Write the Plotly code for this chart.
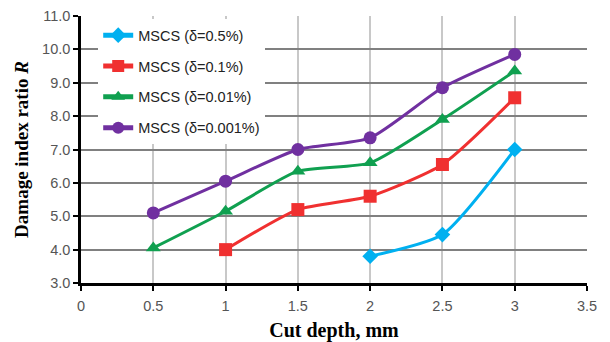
import plotly.graph_objects as go

# Cut depth (mm) for each series
x_05 = [2.0, 2.5, 3.0]
x_01 = [1.0, 1.5, 2.0, 2.5, 3.0]
x_001 = [0.5, 1.0, 1.5, 2.0, 2.5, 3.0]
x_0001 = [0.5, 1.0, 1.5, 2.0, 2.5, 3.0]

# Damage index ratio R
r_05 = [3.8, 4.45, 7.0]
r_01 = [4.0, 5.2, 5.6, 6.55, 8.55]
r_001 = [4.05, 5.15, 6.35, 6.6, 7.9, 9.35]
r_0001 = [5.1, 6.05, 7.0, 7.35, 8.85, 9.85]

names = ["MSCS (δ=0.5%)", "MSCS (δ=0.1%)", "MSCS (δ=0.01%)", "MSCS (δ=0.001%)"]
colors = ["#00B0F0", "#F03030", "#10A050", "#7030A0"]
symbols = ["diamond", "square", "triangle-up", "circle"]
sizes = [12, 13, 13, 13]

x_ticks = [0, 0.5, 1, 1.5, 2, 2.5, 3, 3.5]
y_ticks = [3, 4, 5, 6, 7, 8, 9, 10, 11]

series = [(x_05, r_05), (x_01, r_01), (x_001, r_001), (x_0001, r_0001)]

fig = go.Figure()
for i, (xs, ys) in enumerate(series):
    fig.add_trace(go.Scatter(
        x=xs, y=ys, name=names[i], mode="lines+markers",
        legendgroup=f"g{i}",
        line=dict(color=colors[i], width=3, shape="spline", smoothing=0.6),
        marker=dict(symbol=symbols[i], size=sizes[i], color=colors[i]),
    ))

axis_font = dict(family="Liberation Sans, Arial, sans-serif", size=14.5, color="#555555")
x_title_font = dict(family="Liberation Serif, Times New Roman, serif", size=20, color="black")
y_title_font = dict(family="Liberation Serif, Times New Roman, serif", size=19, color="black")

fig.update_layout(
    width=610, height=342,
    margin=dict(l=81, r=23, t=16, b=59),
    paper_bgcolor="white", plot_bgcolor="white",
    showlegend=True,
    legend=dict(
        x=0.034, y=0.988, xanchor="left", yanchor="top",
        bgcolor="white", borderwidth=0,
        font=dict(family="Liberation Sans, Arial, sans-serif", size=14.5, color="#222222"),
        traceorder="grouped", tracegroupgap=9,
        itemsizing="constant",
    ),
    xaxis=dict(
        range=[0, 3.5], tickvals=x_ticks, ticktext=[f"{v:g}" for v in x_ticks],
        showgrid=True, gridcolor="#C8C8C8", gridwidth=1.5,
        showline=True, linecolor="black", linewidth=2.5,
        ticks="outside", ticklen=5, tickwidth=2, tickcolor="black",
        tickfont=axis_font, zeroline=False, ticklabelstandoff=3,
        automargin=False,
        title=dict(text="<b>Cut depth, mm</b>", font=x_title_font, standoff=12),
    ),
    yaxis=dict(
        range=[3, 11], tickvals=y_ticks, ticktext=[f"{v:.1f}" for v in y_ticks],
        showgrid=True, gridcolor="#808080", gridwidth=1.5,
        showline=True, linecolor="black", linewidth=2.5,
        ticks="outside", ticklen=5, tickwidth=2, tickcolor="black",
        tickfont=axis_font, zeroline=False,
        automargin=False,
        title=dict(text="<b>Damage index ratio <i>R</i></b>", font=y_title_font, standoff=9),
    ),
)

fig.write_html("out.html")
